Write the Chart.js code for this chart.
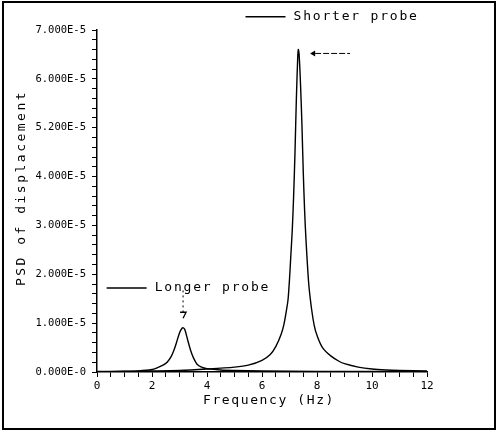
<!DOCTYPE html>
<html>
<head>
<meta charset="utf-8">
<script src="https://cdn.jsdelivr.net/npm/chart.js@4/dist/chart.umd.min.js"></script>
<style>
html,body{margin:0;padding:0;background:#fff;}
#wrap{width:498px;height:432px;}
</style>
</head>
<body>
<div id="wrap"><canvas id="c" width="498" height="432"></canvas></div>
<script>
// ---- data (frequency in Hz, PSD in units of 1E-5) ----
const shorterFreq = [0, 1, 2, 3, 4, 5, 5.5, 6.0, 6.3, 6.5, 6.7, 6.8, 6.9, 6.95, 7.0, 7.05, 7.1, 7.15, 7.2, 7.25, 7.3, 7.32, 7.35, 7.4, 7.45, 7.5, 7.55, 7.6, 7.7, 7.8, 7.9, 8.0, 8.2, 8.5, 8.8, 9.0, 9.5, 10.0, 10.5, 11, 12];
const shorterPSD  = [0.01, 0.015, 0.02, 0.03, 0.06, 0.1, 0.14, 0.24, 0.36, 0.52, 0.78, 0.98, 1.3, 1.5, 1.9, 2.4, 2.9, 3.6, 4.5, 5.6, 6.45, 6.6, 6.5, 5.9, 5.1, 4.1, 3.3, 2.7, 1.8, 1.3, 0.95, 0.75, 0.5, 0.33, 0.22, 0.17, 0.1, 0.06, 0.04, 0.03, 0.02];
const longerFreq  = [0, 1, 1.5, 2.0, 2.2, 2.4, 2.55, 2.7, 2.8, 2.9, 3.0, 3.1, 3.15, 3.2, 3.3, 3.4, 3.5, 3.64, 3.8, 4.0, 4.5, 5, 6, 8, 10, 12];
const longerPSD   = [0.005, 0.01, 0.02, 0.05, 0.09, 0.14, 0.2, 0.32, 0.45, 0.62, 0.8, 0.9, 0.9, 0.86, 0.65, 0.45, 0.3, 0.16, 0.1, 0.07, 0.04, 0.03, 0.02, 0.01, 0.01, 0.005];
const seriesNames = ['Shorter probe', 'Longer probe'];
const yTickLabels = ['0.000E-0', '1.000E-5', '2.000E-5', '3.000E-5', '4.000E-5', '5.200E-5', '6.000E-5', '7.000E-5'];
const xTickLabels = ['0', '2', '4', '6', '8', '10', '12'];
const SCALE = 1e-5;

function pts(xs, ys){ return xs.map((x,i)=>({x:x, y:ys[i]*SCALE})); }

// ---- annotation placement (data coordinates) ----
const notes = {
  shorterLabel: {x: 5.4, y: 7.27e-5},
  longerLabel: {x: 0.35, y: 1.72e-5},
  shorterArrow: {x0: 7.75, x1: 9.2, y: 6.52e-5},
  longerArrow: {x: 3.13, y0: 1.67e-5, y1: 1.1e-5}
};

const MONO = '"DejaVu Sans Mono", monospace';

const decor = {
  id: 'decor',
  beforeDraw(chart){
    const ctx = chart.ctx;
    ctx.save();
    ctx.fillStyle = '#fff';
    ctx.fillRect(0,0,chart.width,chart.height);
    ctx.strokeStyle = '#000';
    ctx.lineWidth = 2;
    ctx.strokeRect(3, 2, 492, 427);
    ctx.restore();
  },
  afterDraw(chart){
    const ctx = chart.ctx;
    const xs = chart.scales.x, ys = chart.scales.y;
    ctx.save();
    ctx.fillStyle = '#000';
    ctx.strokeStyle = '#000';
    // y title
    ctx.save();
    ctx.translate(22, 188);
    ctx.rotate(-Math.PI/2);
    ctx.font = '13px ' + MONO;
    ctx.letterSpacing = '2.5px';
    ctx.textAlign = 'center';
    ctx.textBaseline = 'middle';
    ctx.fillText('PSD of displacement', 0, 0);
    ctx.restore();
    // x title
    ctx.save();
    ctx.font = '13px ' + MONO;
    ctx.letterSpacing = '1.6px';
    ctx.textAlign = 'center';
    ctx.textBaseline = 'middle';
    ctx.fillText('Frequency (Hz)', 269, 401);
    ctx.restore();
    // legend-like labels
    function label(p, text){
      const px = xs.getPixelForValue(p.x), py = ys.getPixelForValue(p.y);
      ctx.save();
      ctx.lineWidth = 1.5;
      ctx.beginPath(); ctx.moveTo(px, py); ctx.lineTo(px+40, py); ctx.stroke();
      ctx.font = '13px ' + MONO;
      ctx.letterSpacing = '1.8px';
      ctx.textAlign = 'left';
      ctx.textBaseline = 'middle';
      ctx.fillText(text, px+48, py);
      ctx.restore();
    }
    label(notes.shorterLabel, seriesNames[0]);
    label(notes.longerLabel, seriesNames[1]);
    // shorter arrow (pointing left)
    const a = notes.shorterArrow;
    let ax0 = xs.getPixelForValue(a.x0), ax1 = xs.getPixelForValue(a.x1), ay = ys.getPixelForValue(a.y);
    ctx.lineWidth = 1;
    ctx.setLineDash([6,2]);
    ctx.beginPath(); ctx.moveTo(ax0+5, ay); ctx.lineTo(ax1, ay); ctx.stroke();
    ctx.setLineDash([]);
    ctx.beginPath(); ctx.moveTo(ax0, ay); ctx.lineTo(ax0+5, ay-3); ctx.lineTo(ax0+5, ay+3); ctx.closePath(); ctx.fill();
    // longer arrow (pointing down)
    const b = notes.longerArrow;
    let bx = xs.getPixelForValue(b.x), by0 = ys.getPixelForValue(b.y0), by1 = ys.getPixelForValue(b.y1);
    ctx.setLineDash([2,3]);
    ctx.beginPath(); ctx.moveTo(bx, by0); ctx.lineTo(bx, by1-6); ctx.stroke();
    ctx.setLineDash([]);
    ctx.lineWidth = 1.3;
    ctx.beginPath(); ctx.moveTo(bx-3, by1-6); ctx.lineTo(bx+3, by1-6); ctx.lineTo(bx, by1); ctx.stroke();
    ctx.restore();
  }
};

new Chart(document.getElementById('c'), {
  type: 'line',
  data: {
    datasets: [
      {label: seriesNames[0], data: pts(shorterFreq, shorterPSD), borderColor: '#000', borderWidth: 1.4, pointRadius: 0, tension: 0.3, fill: false},
      {label: seriesNames[1], data: pts(longerFreq, longerPSD), borderColor: '#000', borderWidth: 1.4, pointRadius: 0, tension: 0.3, fill: false}
    ]
  },
  options: {
    responsive: false,
    animation: false,
    layout: {padding: {left: 0, right: 71, top: 30, bottom: 0}},
    plugins: {legend: {display: false}, tooltip: {enabled: false}},
    scales: {
      x: {
        type: 'linear', min: 0, max: 12,
        afterFit(s){ s.height = 60; },
        border: {color: '#000', width: 1.5},
        grid: {drawOnChartArea: false, color: '#000', tickLength: 5, tickWidth: 1},
        ticks: {
          stepSize: 0.5, maxTicksLimit: 100, autoSkip: false, maxRotation: 0,
          color: '#000', padding: 3, font: {family: MONO, size: 11},
          callback(v){ const k = Math.round(v/2); return Math.abs(v - 2*k) < 1e-9 ? xTickLabels[k] : ''; }
        }
      },
      y: {
        min: 0, max: 7e-5,
        afterFit(s){ s.width = 97; },
        border: {color: '#000', width: 1.5},
        grid: {drawOnChartArea: false, color: '#000', tickLength: 5, tickWidth: 1},
        ticks: {
          stepSize: 0.2e-5, maxTicksLimit: 100, autoSkip: false,
          color: '#000', padding: 6, font: {family: MONO, size: 10.5},
          callback(v){ const r = v/SCALE; const k = Math.round(r); return Math.abs(r-k) < 1e-6 ? yTickLabels[k] : ''; }
        }
      }
    }
  },
  plugins: [decor]
});
</script>
</body>
</html>
